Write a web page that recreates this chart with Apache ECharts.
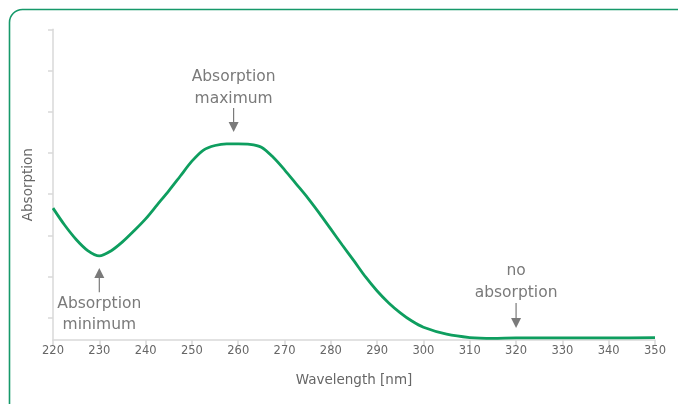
<!DOCTYPE html>
<html>
<head>
<meta charset="utf-8">
<script src="https://cdn.jsdelivr.net/npm/echarts@6/dist/echarts.min.js"></script>
<style>
html,body{margin:0;padding:0;background:#fff;}
#chart{width:678px;height:404px;}
</style>
</head>
<body>
<div id="chart"></div>
<script>
// Wavelength (nm) and absorption (arbitrary units; ticks at 0..7)
var wavelengths = [220,222.5,225,227.5,230,232.5,235,237.5,240,242.5,245,247.5,250,252.5,255,257.5,260,262.5,265,267.5,270,272.5,275,277.5,280,282.5,285,287.5,290,292.5,295,297.5,300,305,310,315,320,330,340,350];
var absorption  = [2.66,2.25,1.90,1.63,1.50,1.62,1.84,2.11,2.40,2.74,3.08,3.44,3.80,4.07,4.18,4.22,4.22,4.21,4.14,3.90,3.59,3.25,2.91,2.54,2.15,1.76,1.38,0.99,0.65,0.36,0.12,-0.08,-0.23,-0.40,-0.48,-0.50,-0.49,-0.49,-0.49,-0.48];
var yTickValues = [0,1,2,3,4,5,6,7];
var annotations = [
  {lines:['Absorption','maximum'], x:259, textY:[5.84,5.31], arrowFrom:5.09, arrowTo:4.51},
  {lines:['Absorption','minimum'], x:230, textY:[0.33,-0.18], arrowFrom:0.62, arrowTo:1.21},
  {lines:['no','absorption'], x:320, textY:[1.13,0.60], arrowFrom:0.36, arrowTo:-0.25}
];

var chart = echarts.init(document.getElementById('chart'), null, {renderer:'canvas'});
var gray = '#7a7a7a';
var font = 'DejaVu Sans';
var data = wavelengths.map(function(w,i){return [w, absorption[i]];});

chart.setOption({
  animation:false,
  grid:{left:53, right:23, top:29.3, bottom:64},
  xAxis:{
    type:'value', min:220, max:350, interval:10,
    name:'Wavelength [nm]', nameLocation:'middle', nameGap:33,
    nameTextStyle:{color:'#666', fontFamily:font, fontSize:13.5},
    axisLine:{onZero:false, lineStyle:{color:'#d9d9d9', width:1.5}},
    axisTick:{show:true, length:5, lineStyle:{color:'#d9d9d9', width:1.5}},
    axisLabel:{color:'#666', fontFamily:font, fontSize:11.5, margin:5},
    splitLine:{show:false}
  },
  yAxis:{
    type:'value', min:-0.54, max:7,
    name:'Absorption', nameLocation:'middle', nameGap:18,
    nameTextStyle:{color:'#666', fontFamily:font, fontSize:13.5},
    axisLine:{show:true, onZero:false, lineStyle:{color:'#d9d9d9', width:1.5}},
    axisTick:{show:true, length:5, customValues:yTickValues, lineStyle:{color:'#d9d9d9', width:1.5}},
    axisLabel:{show:false},
    splitLine:{show:false}
  },
  series:[{
    type:'line', data:data, smooth:0.3, showSymbol:false,
    lineStyle:{color:'#0e9e5f', width:2.8}
  }]
});

var g = [{
  type:'rect', shape:{x:9.5, y:9.5, width:720, height:440, r:13},
  style:{fill:'none', stroke:'#16996a', lineWidth:1.6}, z:-1
}];
annotations.forEach(function(a){
  var px = chart.convertToPixel({gridIndex:0}, [a.x, 0])[0];
  a.lines.forEach(function(t,i){
    var py = chart.convertToPixel({gridIndex:0}, [a.x, a.textY[i]])[1];
    g.push({type:'text', x:px, y:py, style:{text:t, fill:gray, font:'15.5px "'+font+'"', textAlign:'center', textVerticalAlign:'middle'}});
  });
  var y1 = chart.convertToPixel({gridIndex:0}, [a.x, a.arrowFrom])[1];
  var y2 = chart.convertToPixel({gridIndex:0}, [a.x, a.arrowTo])[1];
  var dir = y2 > y1 ? 1 : -1;
  var head = 10;
  g.push({type:'line', shape:{x1:px, y1:y1, x2:px, y2:y2 - dir*head}, style:{stroke:gray, lineWidth:1.2}});
  g.push({type:'polygon', shape:{points:[[px-5, y2-dir*head],[px+5, y2-dir*head],[px, y2]]}, style:{fill:gray}});
});
chart.setOption({graphic:g});
</script>
</body>
</html>
